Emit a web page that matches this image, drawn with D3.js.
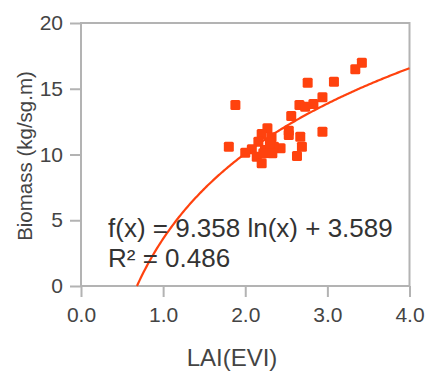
<!DOCTYPE html>
<html><head><meta charset="utf-8">
<script src="https://cdn.jsdelivr.net/npm/d3@7"></script>
<style>body{margin:0;background:#fff}svg{display:block}text{font-family:"Liberation Sans",Arial,sans-serif}</style>
</head><body>
<svg id="c" width="427" height="372"></svg>
<script>
const lai = [3.42,3.34,3.08,2.76,1.88,2.94,2.83,2.66,2.73,2.56,2.27,2.53,2.53,2.67,2.94,2.20,2.32,2.16,1.80,2.69,2.43,2.35,2.08,2.00,2.24,2.14,2.63,2.20,2.30,2.30,2.22,2.33];
const biomass = [16.98,16.48,15.54,15.46,13.76,14.35,13.84,13.76,13.63,12.93,11.99,11.81,11.48,11.35,11.73,11.56,11.31,10.97,10.59,10.59,10.47,10.59,10.40,10.14,10.34,9.83,9.89,9.33,10.21,10.87,10.10,10.10];
const xTicks = [0,1,2,3,4];
const yTicks = [0,5,10,15,20];
const fitA = 9.358, fitB = 3.589, r2 = 0.486;

const svg = d3.select("#c");
const x = d3.scaleLinear().domain([0,4]).range([81,409.5]);
const y = d3.scaleLinear().domain([0,20]).range([286,23]);
const grey = "#b3b3b3", col = "#ff420e", txt = "#444";

svg.append("rect").attr("x",x(0)).attr("y",y(20)).attr("width",x(4)-x(0)).attr("height",y(0)-y(20))
  .attr("fill","none").attr("stroke",grey).attr("stroke-width",2);

const xa = svg.append("g").attr("transform",`translate(0,${y(0)})`)
  .call(d3.axisBottom(x).tickValues(xTicks).tickFormat(d3.format(".1f")).tickSize(11).tickPadding(10));
const ya = svg.append("g").attr("transform",`translate(${x(0)},0)`)
  .call(d3.axisLeft(y).tickValues(yTicks).tickSize(11).tickPadding(7));
[xa,ya].forEach(a=>{
  a.select(".domain").remove();
  a.selectAll("line").attr("stroke",grey).attr("stroke-width",2);
  a.selectAll("text").attr("fill",txt).style("font-size","21px");
});

// fit curve
const x0 = Math.exp(-fitB/fitA);
const curvePts = d3.range(0,201).map(i=>{const xv = x0 + (4-x0)*i/200; return [xv, fitA*Math.log(xv)+fitB];});
svg.append("path").datum(curvePts)
  .attr("d", d3.line().x(d=>x(d[0])).y(d=>y(d[1])))
  .attr("fill","none").attr("stroke",col).attr("stroke-width",2.2);

svg.append("g").selectAll("rect").data(lai.map((v,i)=>[v,biomass[i]])).join("rect")
  .attr("x",d=>x(d[0])-5).attr("y",d=>y(d[1])-5).attr("width",10).attr("height",10)
  .attr("rx",1.5).attr("fill",col);

svg.append("text").attr("x",108).attr("y",237).attr("fill","#333").style("font-size","26px")
  .text(`f(x) = ${fitA} ln(x) + ${fitB}`);
svg.append("text").attr("x",108).attr("y",267).attr("fill","#333").style("font-size","26px")
  .text(`R² = ${r2}`);

svg.append("text").attr("x",232).attr("y",366).attr("text-anchor","middle").attr("fill",txt)
  .style("font-size","24px").text("LAI(EVI)");
svg.append("text").attr("transform","translate(32,156) rotate(-90)").attr("text-anchor","middle")
  .attr("fill",txt).style("font-size","20.5px").text("Biomass (kg/sg.m)");
</script>
</body></html>
